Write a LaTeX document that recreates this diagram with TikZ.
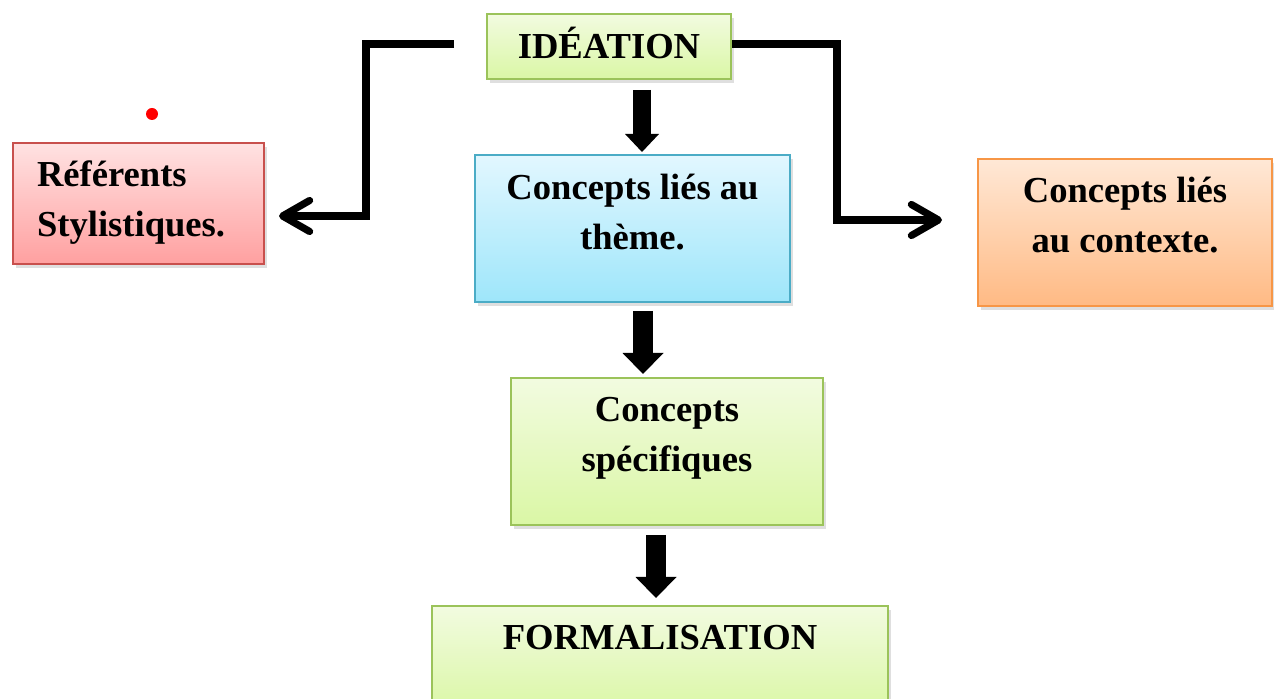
\documentclass[tikz,border=0pt]{standalone}
\usepackage{fontspec}
\setmainfont{Liberation Serif}
\usepackage{tikz}
\usepackage{xcolor}
\usetikzlibrary{arrows.meta,calc,positioning,shadows}
\definecolor{grntop}{RGB}{242,251,224}
\definecolor{grnbot}{RGB}{218,247,165}
\definecolor{grnline}{RGB}{155,195,90}
\definecolor{redtop}{RGB}{255,226,226}
\definecolor{redbot}{RGB}{255,160,160}
\definecolor{redline}{RGB}{200,80,77}
\definecolor{blutop}{RGB}{226,247,255}
\definecolor{blubot}{RGB}{158,230,250}
\definecolor{bluline}{RGB}{75,172,198}
\definecolor{orgtop}{RGB}{255,232,214}
\definecolor{orgbot}{RGB}{255,186,132}
\definecolor{orgline}{RGB}{247,150,70}

\begin{document}
\begin{tikzpicture}[x=0.5pt,y=-0.5pt,>=Stealth,
  box/.style={draw,line width=1pt,inner sep=0pt,align=center,
    font=\fontsize{18.3}{25}\selectfont\bfseries,
    drop shadow={shadow xshift=1.5pt,shadow yshift=-2pt,opacity=0.25}},
  greenbox/.style={box,draw=grnline,top color=grntop,bottom color=grnbot},
  redbox/.style={box,draw=redline,top color=redtop,bottom color=redbot},
  bluebox/.style={box,draw=bluline,top color=blutop,bottom color=blubot},
  orangebox/.style={box,draw=orgline,top color=orgtop,bottom color=orgbot},
  link/.style={line width=3.6pt,-{Straight Barb[length=13.5pt,width=15.5pt,round]}},
  fat/.style={line width=10pt,-{Triangle[length=10.5pt,width=20.5pt,line width=0pt]}}]
  \useasboundingbox (0,0) rectangle (1274,699);
  \node[greenbox,minimum width=122pt,text height=22.5pt,text depth=10pt] (idea) at (609,46.5) {IDÉATION};
  \node[redbox,text width=101.5pt,align=left,inner xsep=12pt,text height=22pt,text depth=38.5pt] (ref) at (138.5,203.5) {Référents\\Stylistiques.};
  \node[bluebox,minimum width=157.5pt,text height=47.5pt,text depth=26pt] (theme) at (632.5,228.5) {Concepts liés au\\thème.};
  \node[orangebox,minimum width=147pt,text height=47pt,text depth=26.5pt] (ctx) at (1125,232.5) {Concepts liés\\au contexte.};
  \node[greenbox,minimum width=156pt,text height=46.75pt,text depth=26.75pt] (spec) at (667,452) {Concepts\\spécifiques};
  \node[greenbox,minimum width=228pt,text height=21.5pt,text depth=32pt] (formal) at (660,659.5) {FORMALISATION};
  \draw[link] ([xshift=-16pt,yshift=1.25pt]idea.west) -| (366,216) -- ([xshift=7pt,yshift=-6.25pt]ref.east);
  \draw[link] ([yshift=1.25pt]idea.east) -| (837,220) -- ([xshift=-17.5pt,yshift=6.25pt]ctx.west);
  \draw[fat,line width=9pt,-{Triangle[length=9pt,width=17pt,line width=0pt]}] ([xshift=16.5pt,yshift=-5pt]idea.south) -- ([xshift=4.75pt,yshift=1pt]theme.north);
  \draw[fat] ([xshift=5.25pt,yshift=-4pt]theme.south) -- ([xshift=-12pt,yshift=1.75pt]spec.north);
  \draw[fat] ([xshift=-5.5pt,yshift=-4.25pt]spec.south) -- ([xshift=-2pt,yshift=3.5pt]formal.north);
  \fill[red] (152,114) circle (6);
\end{tikzpicture}
\end{document}
